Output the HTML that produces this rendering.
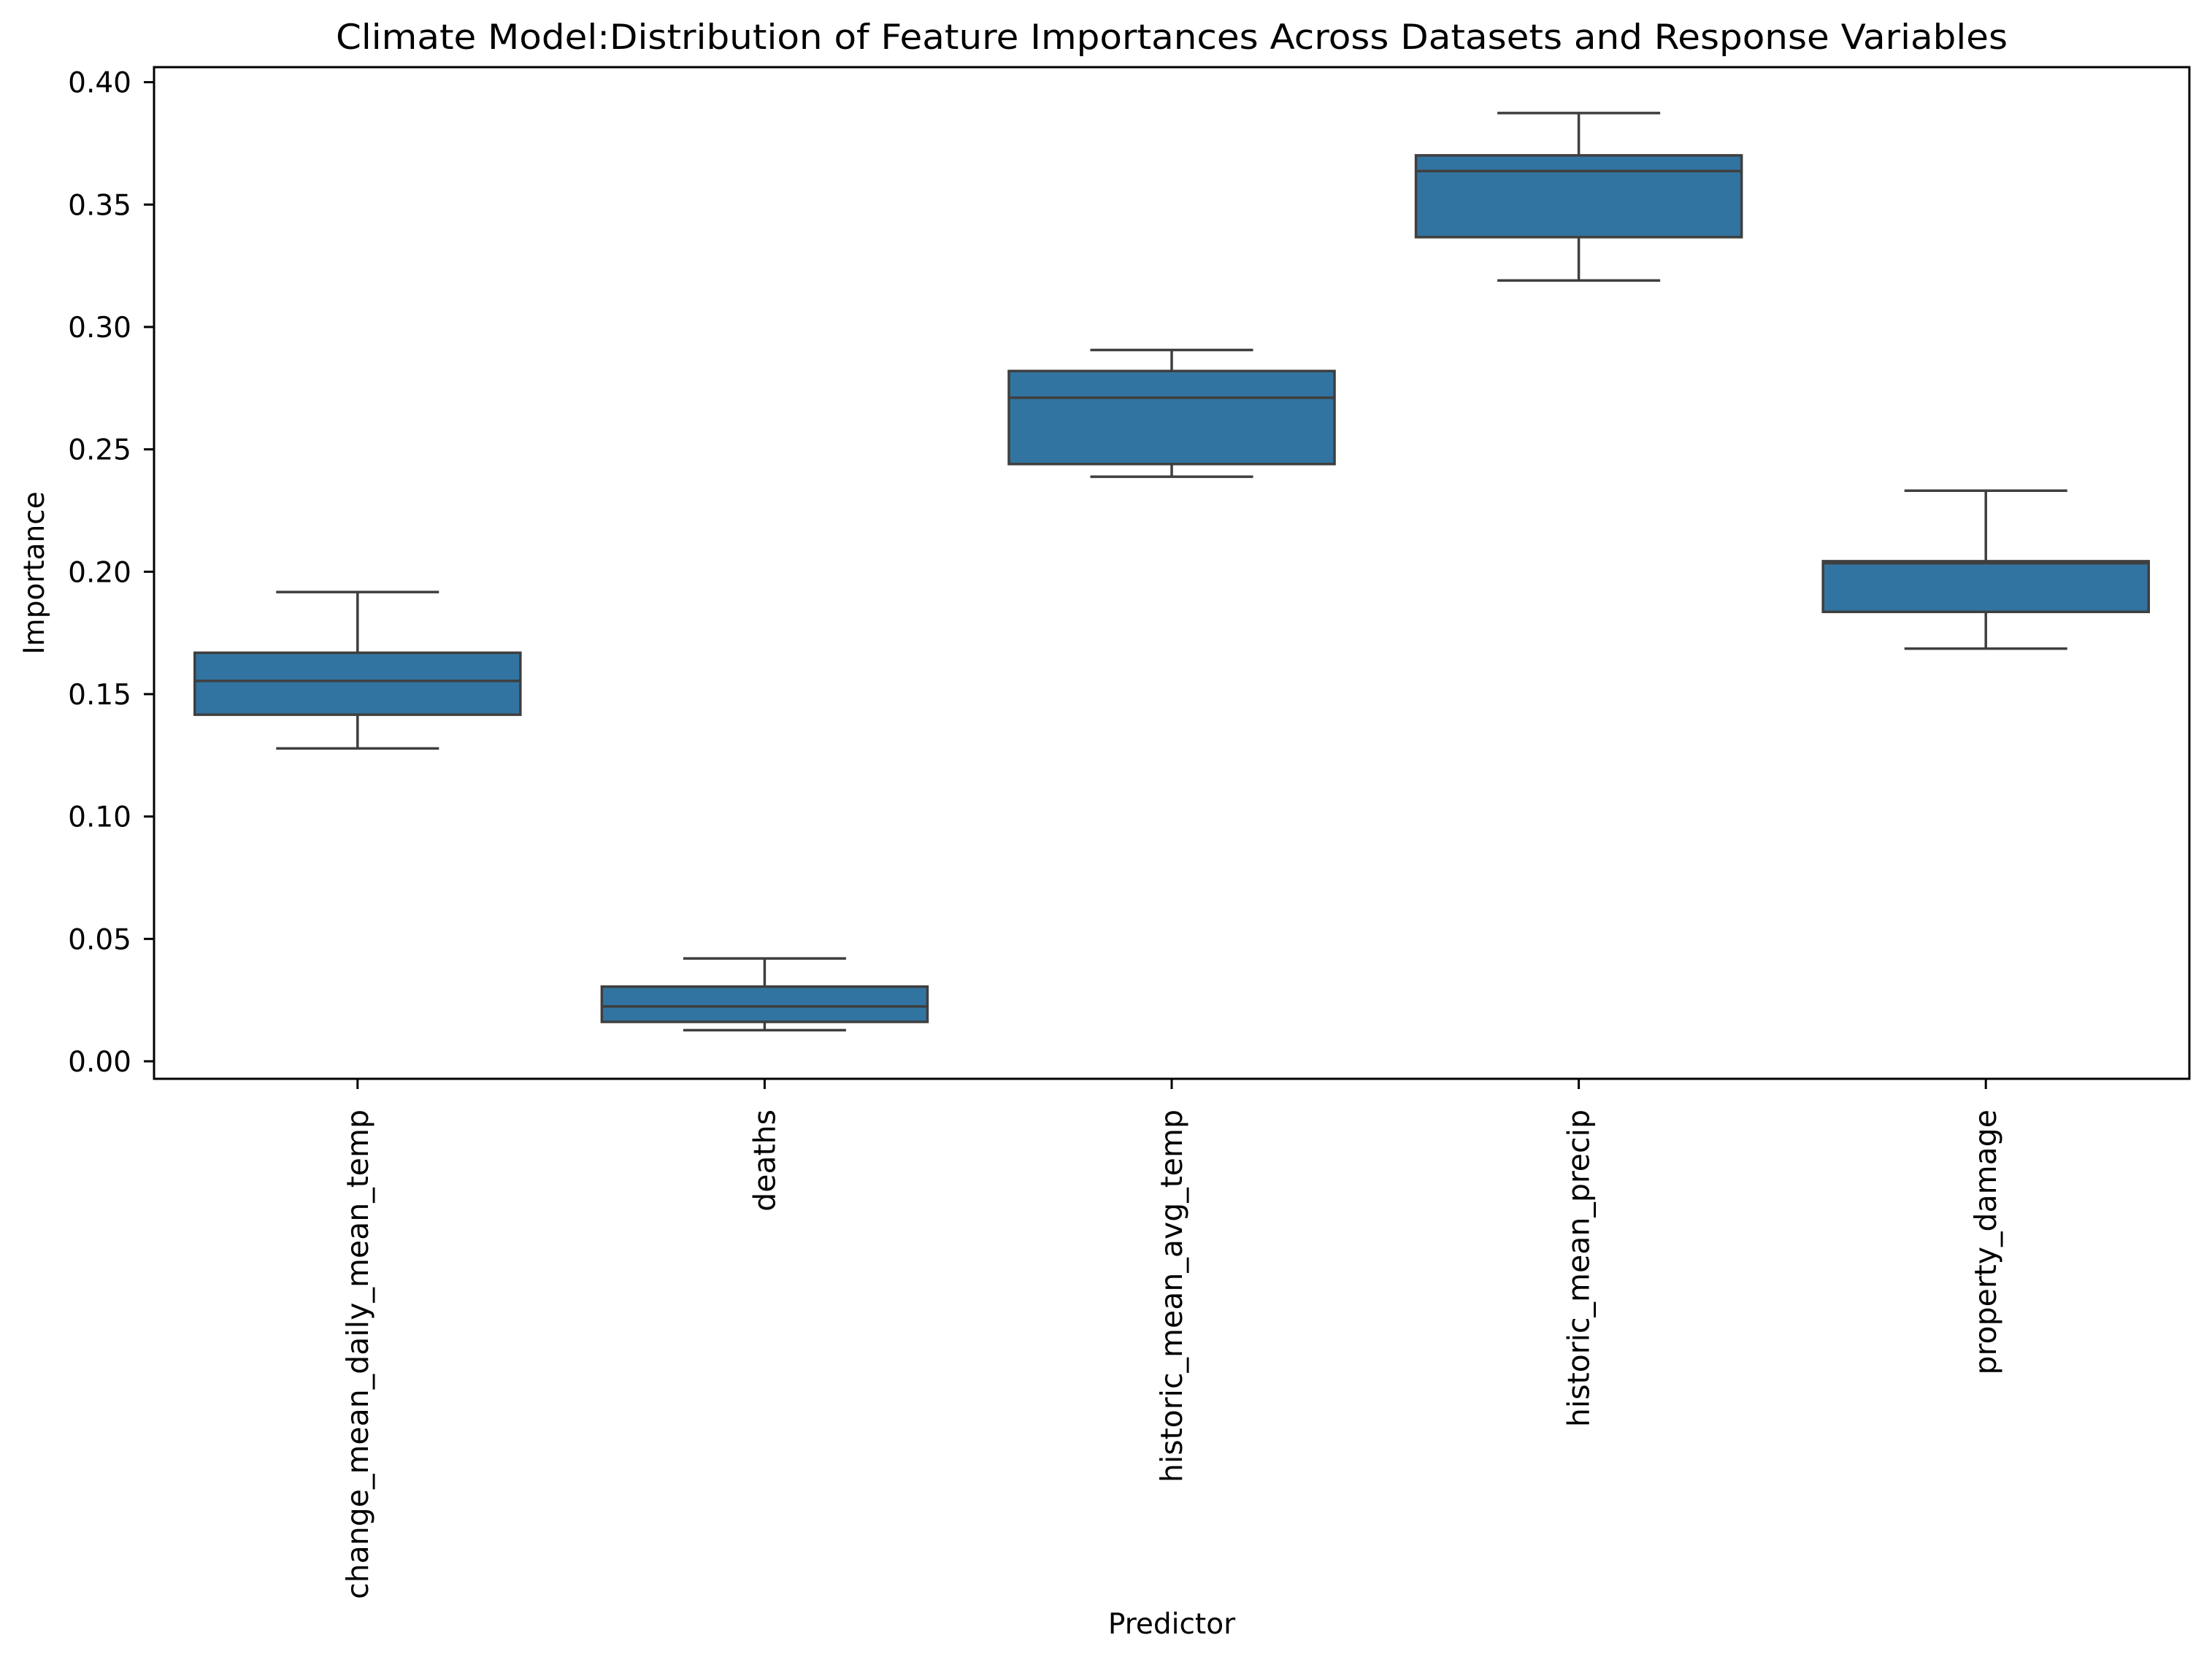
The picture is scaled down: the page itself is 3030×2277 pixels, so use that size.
<!DOCTYPE html>
<html><head><meta charset="utf-8"><style>
html,body{margin:0;padding:0;background:#fff;}
svg{display:block;font-family:"DejaVu Sans","Liberation Sans",sans-serif;}
</style></head><body>
<svg id="chart" width="3030" height="2277" viewBox="0 0 3030 2277" xmlns="http://www.w3.org/2000/svg">
<rect width="3030" height="2277" fill="#fff"/>
<text x="1605" y="67" font-size="47" text-anchor="middle" textLength="2290" lengthAdjust="spacingAndGlyphs">Climate Model:Distribution of Feature Importances Across Datasets and Response Variables</text>
<g id="plot"></g>
<rect x="211" y="92" width="2788" height="1386" fill="none" stroke="#000" stroke-width="3"/>
<text x="60" y="785" font-size="39" text-anchor="middle" transform="rotate(-90 60 785)">Importance</text>
<text x="1605" y="2238" font-size="39" text-anchor="middle">Predictor</text>
</svg>
<script>
const categories = ["change_mean_daily_mean_temp","deaths","historic_mean_avg_temp","historic_mean_precip","property_damage"];
const whiskerLow = [0.1278, 0.0127, 0.2388, 0.3190, 0.1686];
const q1 = [0.1416, 0.0161, 0.2440, 0.3367, 0.1836];
const median = [0.1554, 0.0224, 0.2711, 0.3637, 0.2035];
const q3 = [0.1669, 0.0305, 0.2820, 0.3701, 0.2043];
const whiskerHigh = [0.1917, 0.0420, 0.2906, 0.3874, 0.2331];
const yTicks = [0, 0.05, 0.10, 0.15, 0.20, 0.25, 0.30, 0.35, 0.40];
const yTickLabels = ["0.00","0.05","0.10","0.15","0.20","0.25","0.30","0.35","0.40"];

const NS = "http://www.w3.org/2000/svg";
const L = 211, R = 2999;
const Y0 = 1454, Y40 = 112.6;
function yScale(v){ return Y0 - (v / 0.40) * (Y0 - Y40); }
const band = (R - L) / categories.length;
function xScale(i){ return L + band * (i + 0.5); }
const svg = document.getElementById('chart');
const plot = document.getElementById('plot');
function mk(tag, attrs, parent){
  const e = document.createElementNS(NS, tag);
  for (const k in attrs) e.setAttribute(k, attrs[k]);
  (parent || plot).appendChild(e);
  return e;
}
const LC = "#3f3f3f", LW = 3.5;
yTicks.forEach((t, i) => {
  const y = yScale(t);
  const tk = mk('line', {x1: 197, x2: 211, y1: y, y2: y, stroke: '#000', 'stroke-width': 3});
  
  
  const lb = mk('text', {x: 180, y: y + 14, 'font-size': 39, 'text-anchor': 'end'});
  lb.textContent = yTickLabels[i];
  
  
});
const bw = band * 0.8, cw = bw / 2;
categories.forEach((c, i) => {
  const cx = xScale(i);
  const g = mk('g', {});
  
  
  const wl = mk('line', {x1: cx, x2: cx, y1: yScale(q1[i]), y2: yScale(whiskerLow[i]), stroke: LC, 'stroke-width': LW}, g);
  
  
  const wh = mk('line', {x1: cx, x2: cx, y1: yScale(q3[i]), y2: yScale(whiskerHigh[i]), stroke: LC, 'stroke-width': LW}, g);
  
  
  const cl = mk('line', {x1: cx - cw/2, x2: cx + cw/2, y1: yScale(whiskerLow[i]), y2: yScale(whiskerLow[i]), stroke: LC, 'stroke-width': LW}, g);
  
  
  const ch = mk('line', {x1: cx - cw/2, x2: cx + cw/2, y1: yScale(whiskerHigh[i]), y2: yScale(whiskerHigh[i]), stroke: LC, 'stroke-width': LW}, g);
  
  
  const bx = mk('rect', {x: cx - bw/2, y: yScale(q3[i]), width: bw, height: yScale(q1[i]) - yScale(q3[i]), fill: '#3274a1', stroke: LC, 'stroke-width': LW}, g);
  
  
  const md = mk('line', {x1: cx - bw/2, x2: cx + bw/2, y1: yScale(median[i]), y2: yScale(median[i]), stroke: LC, 'stroke-width': LW}, g);
  
  
  const tk = mk('line', {x1: cx, x2: cx, y1: 1478, y2: 1492, stroke: '#000', 'stroke-width': 3}, svg);
  
  
  const lb = mk('text', {x: cx + 14, y: 1520, 'font-size': 41, 'text-anchor': 'end', transform: 'rotate(-90 ' + (cx + 14) + ' 1520)'}, svg);
  lb.textContent = c;
  
  
});
</script>
</body></html>
